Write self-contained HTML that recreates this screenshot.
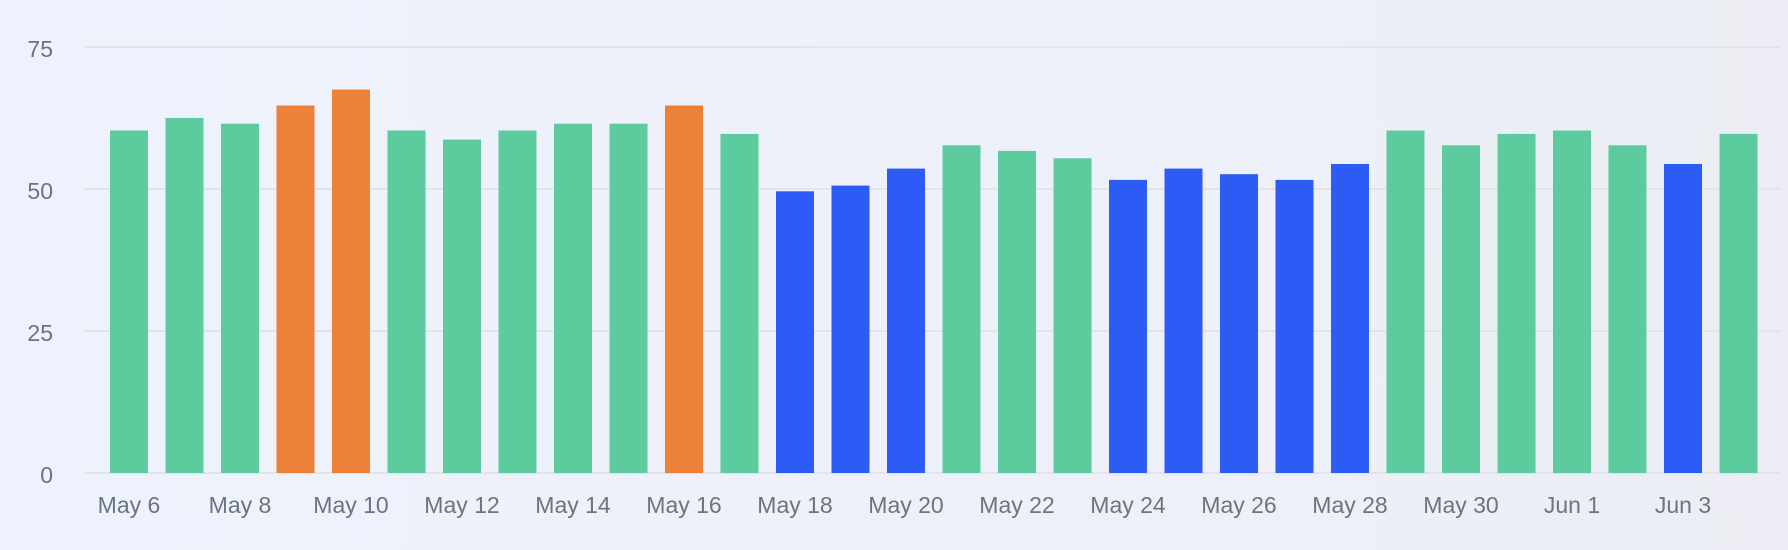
<!DOCTYPE html>
<html><head><style>
html,body{margin:0;padding:0;}
body{width:1788px;height:550px;background:linear-gradient(90deg,#eef2fc 0%,#edf0f8 70%,#ecedf4 100%);overflow:hidden;}
</style></head><body>
<svg width="1788" height="550" xmlns="http://www.w3.org/2000/svg" font-family="Liberation Sans, sans-serif" style="display:block">
<g stroke="#e2e4ea" stroke-width="2">
<line x1="84" x2="1780" y1="47" y2="47"/>
<line x1="84" x2="1780" y1="189" y2="189"/>
<line x1="84" x2="1780" y1="331" y2="331"/>
<line x1="84" x2="1780" y1="473" y2="473"/>
</g>
<g fill="#6b7480" font-size="23" text-anchor="end">
<text x="53" y="57">75</text>
<text x="53" y="199">50</text>
<text x="53" y="341">25</text>
<text x="53" y="483">0</text>
</g>
<g>
<rect x="110" y="130.5" width="38" height="342.5" fill="#5ccb9d"/>
<rect x="165.5" y="118" width="38" height="355" fill="#5ccb9d"/>
<rect x="221" y="123.7" width="38" height="349.3" fill="#5ccb9d"/>
<rect x="276.5" y="105.5" width="38" height="367.5" fill="#ed813a"/>
<rect x="332" y="89.6" width="38" height="383.4" fill="#ed813a"/>
<rect x="387.5" y="130.5" width="38" height="342.5" fill="#5ccb9d"/>
<rect x="443" y="139.6" width="38" height="333.4" fill="#5ccb9d"/>
<rect x="498.5" y="130.5" width="38" height="342.5" fill="#5ccb9d"/>
<rect x="554" y="123.7" width="38" height="349.3" fill="#5ccb9d"/>
<rect x="609.5" y="123.7" width="38" height="349.3" fill="#5ccb9d"/>
<rect x="665" y="105.5" width="38" height="367.5" fill="#ed813a"/>
<rect x="720.5" y="133.9" width="38" height="339.1" fill="#5ccb9d"/>
<rect x="776" y="191.3" width="38" height="281.7" fill="#2d5bf5"/>
<rect x="831.5" y="185.6" width="38" height="287.4" fill="#2d5bf5"/>
<rect x="887" y="168.6" width="38" height="304.4" fill="#2d5bf5"/>
<rect x="942.5" y="145.3" width="38" height="327.7" fill="#5ccb9d"/>
<rect x="998" y="150.9" width="38" height="322.1" fill="#5ccb9d"/>
<rect x="1053.5" y="158.3" width="38" height="314.7" fill="#5ccb9d"/>
<rect x="1109" y="179.9" width="38" height="293.1" fill="#2d5bf5"/>
<rect x="1164.5" y="168.6" width="38" height="304.4" fill="#2d5bf5"/>
<rect x="1220" y="174.2" width="38" height="298.8" fill="#2d5bf5"/>
<rect x="1275.5" y="179.9" width="38" height="293.1" fill="#2d5bf5"/>
<rect x="1331" y="164" width="38" height="309" fill="#2d5bf5"/>
<rect x="1386.5" y="130.5" width="38" height="342.5" fill="#5ccb9d"/>
<rect x="1442" y="145.3" width="38" height="327.7" fill="#5ccb9d"/>
<rect x="1497.5" y="133.9" width="38" height="339.1" fill="#5ccb9d"/>
<rect x="1553" y="130.5" width="38" height="342.5" fill="#5ccb9d"/>
<rect x="1608.5" y="145.3" width="38" height="327.7" fill="#5ccb9d"/>
<rect x="1664" y="164" width="38" height="309" fill="#2d5bf5"/>
<rect x="1719.5" y="133.9" width="38" height="339.1" fill="#5ccb9d"/>
</g>
<g fill="#6b7480" font-size="23" text-anchor="middle">
<text x="129" y="513">May 6</text>
<text x="240" y="513">May 8</text>
<text x="351" y="513">May 10</text>
<text x="462" y="513">May 12</text>
<text x="573" y="513">May 14</text>
<text x="684" y="513">May 16</text>
<text x="795" y="513">May 18</text>
<text x="906" y="513">May 20</text>
<text x="1017" y="513">May 22</text>
<text x="1128" y="513">May 24</text>
<text x="1239" y="513">May 26</text>
<text x="1350" y="513">May 28</text>
<text x="1461" y="513">May 30</text>
<text x="1572" y="513">Jun 1</text>
<text x="1683" y="513">Jun 3</text>
</g>
</svg>
</body></html>
